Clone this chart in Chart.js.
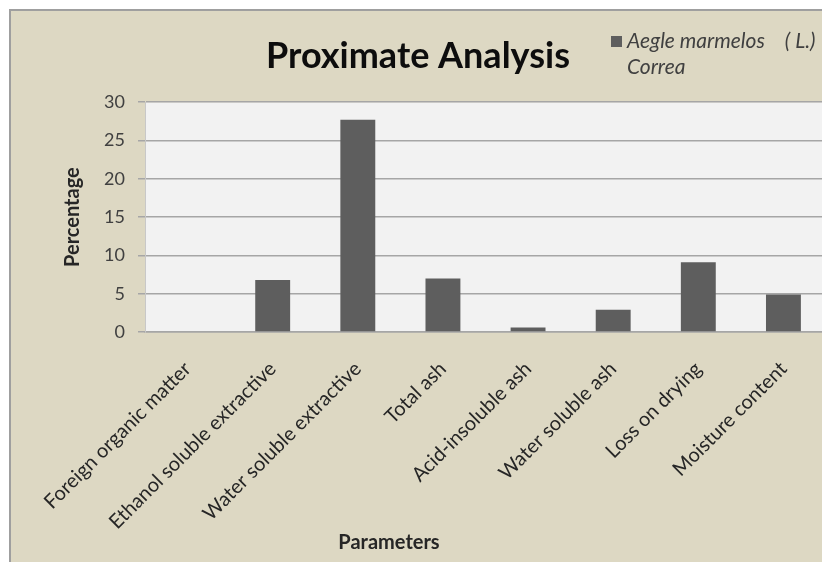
<!DOCTYPE html>
<html>
<head>
<meta charset="utf-8">
<title>Proximate Analysis</title>
<script src="https://cdn.jsdelivr.net/npm/chart.js@4.4.1/dist/chart.umd.min.js"></script>
<style>
  html, body { margin: 0; padding: 0; background: #ffffff; overflow: hidden; }
  canvas { display: block; }
</style>
</head>
<body>
<canvas id="chart" width="826" height="562"></canvas>
<script>
// Parameters measured for the sample
const categories = [
  'Foreign organic matter',
  'Ethanol soluble extractive',
  'Water soluble extractive',
  'Total ash',
  'Acid-insoluble ash',
  'Water soluble ash',
  'Loss on drying',
  'Moisture content'
];

// Percentage for each parameter
const percentages = [0, 6.8, 27.7, 7.0, 0.6, 2.9, 9.1, 4.9];

// Series name, shown as a two-line legend entry
const seriesName = ['Aegle marmelos', '( L.)', 'Correa'];

// Value axis range
const yMin = 0;
const yMax = 30;
const yStep = 5;

const FONT = 'Lato, "Open Sans", sans-serif';
const BEIGE = '#ddd8c3';
const PLOT_BG = '#f2f2f2';
const GRID = '#a6a6a6';
const BAR = '#5e5e5e';

// Paper, frame and plot-area fill behind the chart
const framePlugin = {
  id: 'frame',
  beforeDraw(chart) {
    const { ctx, width, height, chartArea } = chart;
    ctx.save();
    ctx.fillStyle = '#ffffff';
    ctx.fillRect(0, 0, width, height);
    ctx.fillStyle = BEIGE;
    ctx.fillRect(10, 10, width - 10, height - 10);
    ctx.strokeStyle = '#9f9f9f';
    ctx.lineWidth = 2;
    ctx.beginPath();
    ctx.moveTo(10, height);
    ctx.lineTo(10, 10);
    ctx.lineTo(width, 10);
    ctx.stroke();
    ctx.fillStyle = PLOT_BG;
    ctx.fillRect(chartArea.left, chartArea.top,
                 chartArea.right - chartArea.left, chartArea.bottom - chartArea.top);
    ctx.restore();
  }
};

// Legend entry and axis captions
const captionsPlugin = {
  id: 'captions',
  afterDraw(chart) {
    const { ctx, chartArea } = chart;
    ctx.save();

    // legend
    const color = chart.data.datasets[0].backgroundColor;
    ctx.fillStyle = color;
    ctx.fillRect(611, 36, 11, 11);
    ctx.font = 'italic 21px ' + FONT;
    ctx.fillStyle = '#404040';
    ctx.textBaseline = 'alphabetic';
    ctx.textAlign = 'left';
    ctx.fillText(seriesName[0], 627, 48);
    const w0 = ctx.measureText(seriesName[0]).width;
    ctx.fillText(seriesName[1], 627 + w0 + 20, 48);
    ctx.fillText(seriesName[2], 627, 74);

    // axis titles
    ctx.font = 'bold 20px ' + FONT;
    ctx.fillStyle = '#262626';
    ctx.textAlign = 'center';
    ctx.textBaseline = 'middle';
    ctx.fillText('Parameters', 389, 543);

    ctx.translate(73, (chartArea.top + chartArea.bottom) / 2);
    ctx.rotate(-Math.PI / 2);
    ctx.fillText('Percentage', 0, 0);
    ctx.restore();
  }
};

new Chart(document.getElementById('chart'), {
  type: 'bar',
  data: {
    labels: categories,
    datasets: [{
      label: seriesName.join(' '),
      data: percentages,
      backgroundColor: BAR,
      borderWidth: 0,
      barPercentage: 0.41,
      categoryPercentage: 1
    }]
  },
  options: {
    responsive: false,
    animation: false,
    devicePixelRatio: 1,
    layout: { padding: { left: 10, top: 10, right: 0, bottom: 0 } },
    plugins: {
      legend: { display: false },
      tooltip: { enabled: false },
      title: {
        display: true,
        text: 'Proximate Analysis',
        color: '#0d0d0d',
        font: { family: FONT, size: 36, weight: 'bold' },
        padding: { top: 25, bottom: 24 }
      }
    },
    scales: {
      x: {
        grid: { display: false },
        border: { display: true, color: GRID, width: 1.5 },
        ticks: {
          color: '#262626',
          font: { family: FONT, size: 20 },
          minRotation: 45,
          maxRotation: 45,
          autoSkip: false,
          padding: 17
        },
        afterFit(scale) { scale.height = 230; }
      },
      y: {
        min: yMin,
        max: yMax,
        ticks: {
          stepSize: yStep,
          color: '#404040',
          font: { family: FONT, size: 18 },
          padding: 13
        },
        grid: {
          color: GRID,
          lineWidth: 1.5,
          tickLength: 7,
          drawTicks: true
        },
        border: { display: true, color: '#c8c8c8', width: 1 },
        afterFit(scale) { scale.width = 135; }
      }
    }
  },
  plugins: [framePlugin, captionsPlugin]
});
</script>
</body>
</html>
